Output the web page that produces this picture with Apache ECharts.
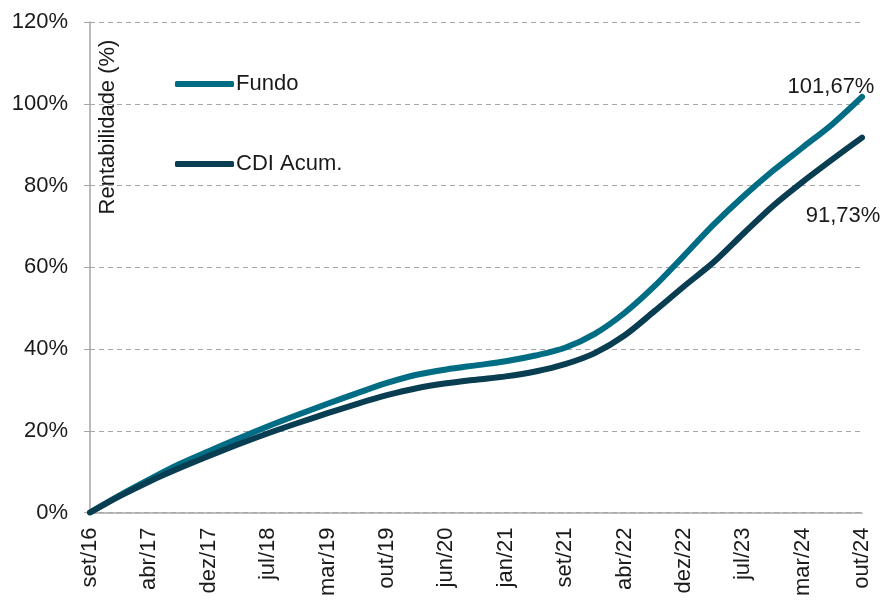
<!DOCTYPE html>
<html>
<head>
<meta charset="utf-8">
<script src="https://cdn.jsdelivr.net/npm/echarts@6/dist/echarts.min.js"></script>
<style>
  html, body { margin: 0; padding: 0; background: #fff; }
  #rentab { width: 884px; height: 602px; }
</style>
</head>
<body>
<div id="rentab"></div>
<script>
// rotulos do eixo x (um a cada 2 pontos)
var tickLabels = ['set/16', 'abr/17', 'dez/17', 'jul/18', 'mar/19', 'out/19', 'jun/20',
                  'jan/21', 'set/21', 'abr/22', 'dez/22', 'jul/23', 'mar/24', 'out/24'];

// rentabilidade acumulada (%)
var fundo = [0, 4.2, 8.1, 11.8, 15.0, 18.1, 21.1, 23.9, 26.6, 29.2, 31.7, 33.7, 35.0, 36.0,
             37.0, 38.4, 40.3, 43.7, 48.8, 55.3, 62.8, 70.4, 77.3, 83.6, 89.3, 95.0, 101.67];
var cdi = [0, 4.0, 7.6, 10.8, 13.8, 16.7, 19.4, 21.9, 24.3, 26.6, 28.7, 30.4, 31.6, 32.5,
           33.3, 34.5, 36.3, 39.0, 43.3, 49.2, 55.3, 61.2, 68.2, 75.0, 80.9, 86.4, 91.73];

var yTicks = [0, 20, 40, 60, 80, 100, 120];

var categorias = [];
for (var i = 0; i < fundo.length; i++) {
    categorias.push(i % 2 === 0 ? tickLabels[i / 2] : '');
}

var fonte = "'Liberation Sans', Arial, sans-serif";

function fmt(v) {
    return v.toFixed(2).replace('.', ',') + '%';
}

var rentabChart = echarts.init(document.getElementById('rentab'));
var rentabOption = {
    animation: false,
    grid: { left: 90, right: 22, top: 22, bottom: 89.5, containLabel: false },
    legend: {
        orient: 'vertical',
        left: 170,
        top: 67,
        itemWidth: 59,
        itemHeight: 6,
        itemGap: 56,
        icon: 'roundRect',
        textStyle: { fontFamily: fonte, fontSize: 22, color: '#1a1a1a', lineHeight: 24, padding: [0, 0, 0, -3] },
        data: ['Fundo', 'CDI Acum.']
    },
    graphic: [{
        type: 'text',
        x: 108,
        y: 127,
        rotation: Math.PI / 2,
        style: {
            text: 'Rentabilidade (%)',
            font: '22px ' + fonte,
            fill: '#1a1a1a',
            textAlign: 'center',
            textVerticalAlign: 'middle'
        }
    }],
    xAxis: {
        type: 'category',
        boundaryGap: false,
        data: categorias,
        axisLine: { lineStyle: { color: '#a6a6a6', width: 1.5 } },
        axisTick: { show: false },
        axisLabel: {
            interval: 1,
            rotate: 90,
            margin: 15,
            fontFamily: fonte,
            fontSize: 22,
            color: '#1a1a1a'
        },
        splitLine: { show: false }
    },
    yAxis: {
        type: 'value',
        min: yTicks[0],
        max: yTicks[yTicks.length - 1],
        interval: 20,
        axisLine: { show: true, lineStyle: { color: '#a6a6a6', width: 1.5 } },
        axisTick: { show: true, length: 6, lineStyle: { color: '#a6a6a6' } },
        axisLabel: {
            margin: 22,
            fontFamily: fonte,
            fontSize: 22,
            color: '#1a1a1a',
            formatter: '{value}%'
        },
        splitLine: { lineStyle: { color: '#a6a6a6', type: [5, 4], width: 1.2 } }
    },
    series: [
        {
            name: 'Fundo',
            type: 'line',
            smooth: 0.3,
            showSymbol: false,
            symbol: 'none',
            color: '#006d84',
            lineStyle: { width: 6, cap: 'round', join: 'round' },
            endLabel: {
                show: true, distance: 0, align: 'center', verticalAlign: 'middle',
                offset: [-31, -10],
                fontFamily: fonte, fontSize: 22, color: '#1a1a1a',
                formatter: function (p) { return fmt(p.value); }
            },
            data: fundo
        },
        {
            name: 'CDI Acum.',
            type: 'line',
            smooth: 0.3,
            showSymbol: false,
            symbol: 'none',
            color: '#083d52',
            lineStyle: { width: 6, cap: 'round', join: 'round' },
            endLabel: {
                show: true, distance: 0, align: 'center', verticalAlign: 'middle',
                offset: [-19, 78],
                fontFamily: fonte, fontSize: 22, color: '#1a1a1a',
                formatter: function (p) { return fmt(p.value); }
            },
            data: cdi
        }
    ]
};
rentabChart.setOption(rentabOption);
</script>
</body>
</html>
